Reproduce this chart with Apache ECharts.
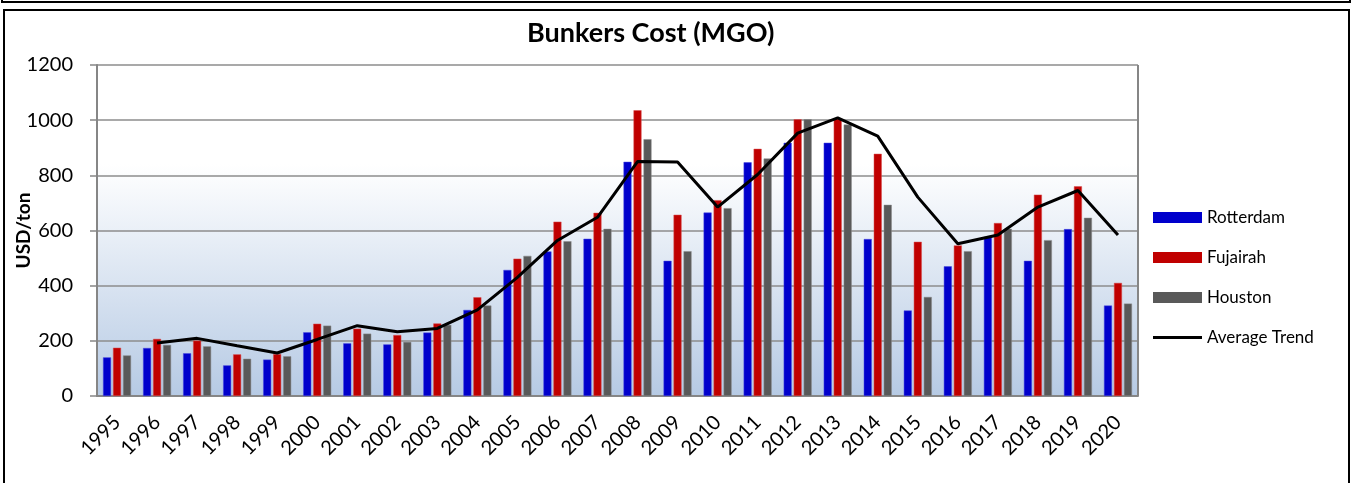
<!DOCTYPE html>
<html>
<head>
<meta charset="utf-8">
<script src="https://cdn.jsdelivr.net/npm/echarts@6/dist/echarts.min.js"></script>
<style>
html, body { margin: 0; padding: 0; background: #fff; }
#top { position: absolute; left: 1px; top: -3px; width: 1346px; height: 4px; border: 2px solid #000; border-top: none; }
#box { position: absolute; left: 3px; top: 9px; width: 1343px; height: 480px; border: 2px solid #000; border-bottom: none; }
#d1 { position: absolute; left: 0; top: 0; width: 1351px; height: 483px; }
</style>
</head>
<body>
<div id="top"></div>
<div id="box"></div>
<div id="d1"></div>
<script>
var years = ['1995', '1996', '1997', '1998', '1999', '2000', '2001', '2002', '2003', '2004', '2005', '2006', '2007',
    '2008', '2009', '2010', '2011', '2012', '2013', '2014', '2015', '2016', '2017', '2018', '2019', '2020'];
var rotterdam = [140, 174, 155, 111, 132, 231, 191, 187, 230, 312, 457, 524, 570,
    849, 490, 665, 847, 918, 918, 569, 310, 470, 576, 490, 605, 328];
var fujairah = [175, 207, 201, 151, 152, 262, 244, 221, 263, 358, 498, 632, 664,
    1036, 657, 710, 896, 1003, 1005, 878, 559, 546, 627, 730, 760, 410];
var houston = [147, 185, 180, 135, 144, 255, 226, 196, 258, 328, 508, 561, 606,
    931, 525, 681, 861, 1003, 984, 693, 359, 525, 606, 565, 646, 335];
var avgTrend = ['-', 192, 209, 182, 156, 205, 255, 233, 245, 312, 430, 564, 648,
    850, 848, 685, 803, 953, 1008, 942, 721, 552, 584, 685, 745, 584];

var font = 'Lato, "Open Sans", sans-serif';
var myChart1 = echarts.init(document.getElementById('d1'));

var option1 = {
    animation: false,
    textStyle: { fontFamily: font },
    title: {
        text: 'Bunkers Cost (MGO)',
        left: 522,
        top: 15,
        textStyle: { fontFamily: font, fontSize: 27, fontWeight: 'bold', color: '#000' }
    },
    legend: {
        orient: 'vertical',
        left: 1153,
        top: 209,
        padding: 0,
        itemWidth: 49,
        itemHeight: 11,
        itemGap: 23,
        itemStyle: { borderWidth: 0 },
        textStyle: { fontFamily: font, fontSize: 17, color: '#000' },
        data: [
            { name: 'Rotterdam', icon: 'rect' },
            { name: 'Fujairah', icon: 'rect' },
            { name: 'Houston', icon: 'rect' },
            { name: 'Average Trend', icon: 'path://M0,0H49V3H0Z' }
        ]
    },
    grid: {
        left: 97,
        right: 213,
        top: 65,
        bottom: 87,
        outerBoundsMode: 'none',
        containLabel: false,
        show: true,
        borderWidth: 0,
        backgroundColor: {
            type: 'linear', x: 0, y: 0, x2: 0, y2: 1,
            colorStops: [
                { offset: 0, color: '#ffffff' },
                { offset: 0.3, color: '#ffffff' },
                { offset: 1, color: '#b6cae4' }
            ]
        }
    },
    xAxis: {
        type: 'category',
        data: years,
        axisLine: { lineStyle: { color: '#868686', width: 2 } },
        axisTick: { length: 6, lineStyle: { color: '#868686', width: 1.5 } },
        axisLabel: {
            rotate: 45,
            interval: 0,
            margin: 23,
            color: '#000',
            fontSize: 20,
            fontFamily: font
        }
    },
    yAxis: {
        type: 'value',
        min: 0,
        max: 1200,
        interval: 200,
        name: 'USD/ton',
        nameLocation: 'middle',
        nameRotate: 90,
        nameGap: 64,
        nameMoveOverlap: false,
        nameTextStyle: { fontFamily: font, fontSize: 19, fontWeight: 'bold', color: '#000' },
        axisLine: { show: true, lineStyle: { color: '#868686', width: 2 } },
        axisTick: { show: true, length: 7, lineStyle: { color: '#868686', width: 1.5 } },
        splitLine: { lineStyle: { color: '#8c8c8c', width: 1.5 } },
        axisLabel: {
            margin: 24, color: '#000', fontSize: 20, fontFamily: font,
            formatter: function (v) { return String(v); }
        }
    },
    graphic: [{
        type: 'line',
        shape: { x1: 1138, y1: 65, x2: 1138, y2: 396 },
        style: { stroke: '#868686', lineWidth: 2 },
        z: 5
    }],
    series: [{
            name: 'Rotterdam',
            type: 'bar',
            data: rotterdam,
            barWidth: 8,
            barGap: '25%',
            itemStyle: { color: '#0000cc', borderColor: '#4b4be0', borderWidth: 0.5 }
        },
        {
            name: 'Fujairah',
            type: 'bar',
            data: fujairah,
            barWidth: 8,
            barGap: '25%',
            itemStyle: { color: '#c00000', borderColor: '#d85050', borderWidth: 0.5 }
        },
        {
            name: 'Houston',
            type: 'bar',
            data: houston,
            barWidth: 8,
            barGap: '25%',
            itemStyle: { color: '#595959', borderColor: '#8a8a8a', borderWidth: 0.5 }
        },
        {
            name: 'Average Trend',
            type: 'line',
            data: avgTrend,
            symbol: 'none',
            z: 10,
            lineStyle: { color: '#000', width: 3 },
            itemStyle: { color: '#000' }
        }
    ]
};

myChart1.setOption(option1);
</script>
</body>
</html>
